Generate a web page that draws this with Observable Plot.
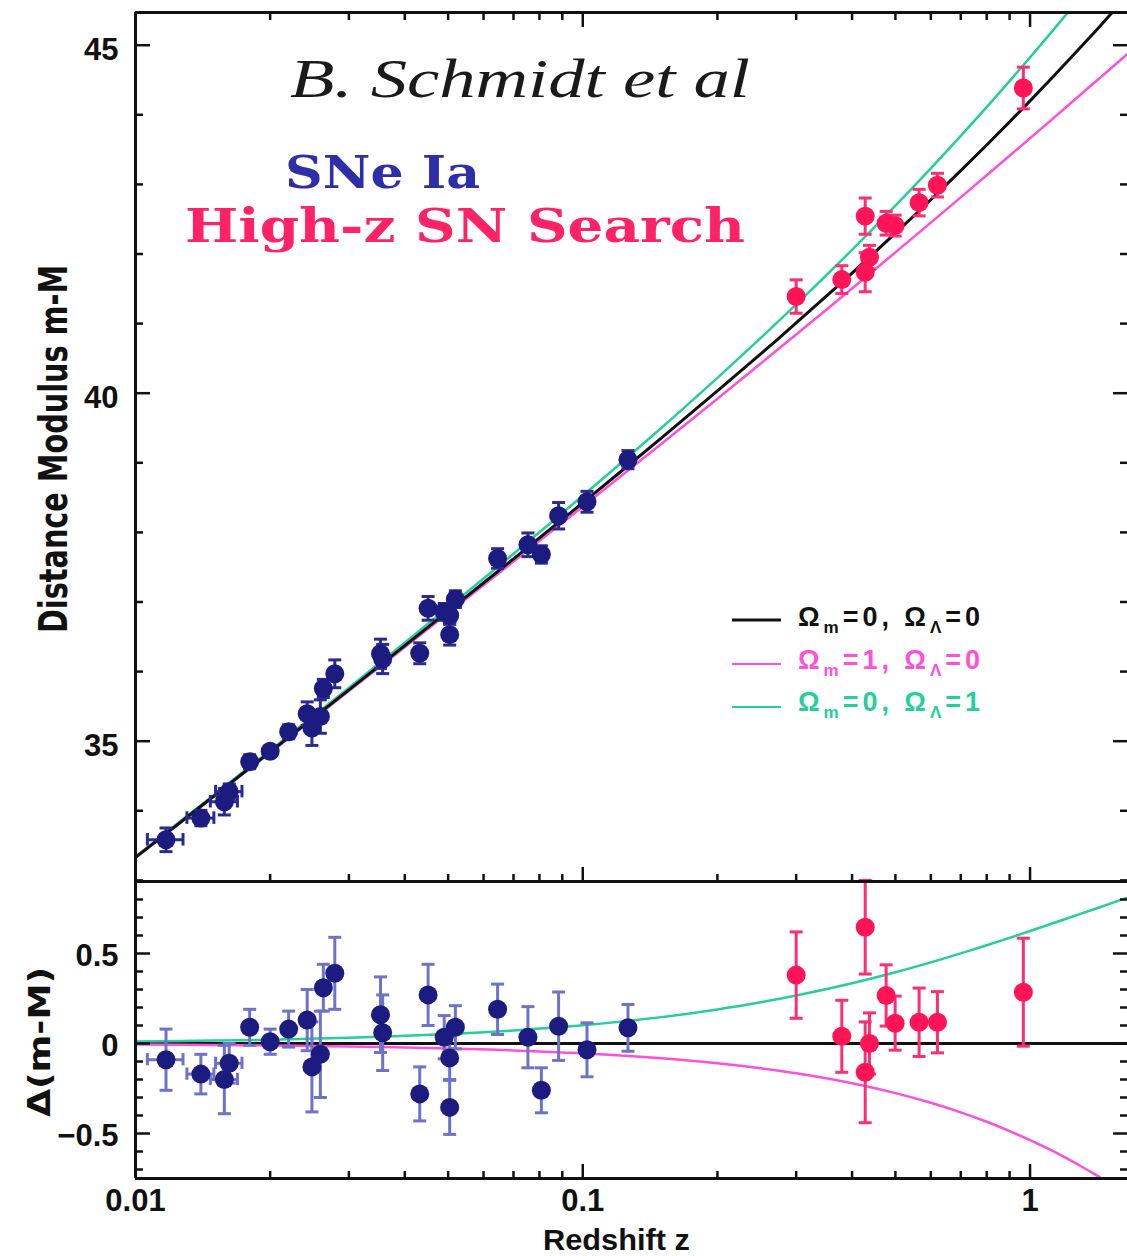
<!DOCTYPE html>
<html><head><meta charset="utf-8">
<script src="https://cdn.jsdelivr.net/npm/d3@7"></script>
<script src="https://cdn.jsdelivr.net/npm/@observablehq/plot@0.6"></script>
<style>
html,body{margin:0;padding:0;background:#fff;}
#wrap{position:relative;width:1127px;height:1256px;overflow:hidden;background:#fff;}
#top{position:absolute;left:0;top:0;}
#bot{position:absolute;left:0;top:881px;}
#ann{position:absolute;left:0;top:0;pointer-events:none;}
</style></head><body>
<div id="wrap"><div id="top"></div><div id="bot"></div><svg id="ann" width="1127" height="1256"></svg></div>
<script>
// ---- Calan/Tololo low-z SNe Ia ----
const lowZ   = [0.0117, 0.0140, 0.0162, 0.0158, 0.0180, 0.0200, 0.0220, 0.0242, 0.0248, 0.0259, 0.0263, 0.0279, 0.0353, 0.0357, 0.0432, 0.0451, 0.0490, 0.0504, 0.0504, 0.0519, 0.0645, 0.0754, 0.0808, 0.0883, 0.1022, 0.1262];
const lowMu  = [33.583, 33.895, 34.275, 34.130, 34.705, 34.856, 35.135, 35.395, 35.189, 35.354, 35.758, 35.968, 36.256, 36.181, 36.263, 36.909, 36.858, 36.806, 36.531, 37.041, 37.626, 37.822, 37.683, 38.239, 38.440, 39.045];
const lowRes = [-0.09, -0.17, -0.11, -0.20, 0.09, 0.01, 0.08, 0.13, -0.13, -0.06, 0.31, 0.39, 0.16, 0.06, -0.28, 0.27, 0.035, -0.08, -0.355, 0.09, 0.19, 0.035, -0.26, 0.096, -0.035, 0.087];
const lowErr = [0.17, 0.11, 0.11, 0.19, 0.10, 0.07, 0.10, 0.17, 0.25, 0.24, 0.13, 0.20, 0.21, 0.21, 0.15, 0.17, 0.12, 0.12, 0.15, 0.12, 0.14, 0.17, 0.125, 0.19, 0.15, 0.13];
const lowZErr = [0.00107, 0.00097, 0.0011, 0.0011, 0, 0, 0, 0, 0, 0, 0, 0, 0, 0, 0, 0, 0, 0, 0, 0, 0, 0, 0, 0, 0, 0];

// ---- High-z SN Search ----
const highZ   = [0.300, 0.3794, 0.428, 0.4375, 0.428, 0.4767, 0.4993, 0.5649, 0.6208, 0.966];
const highMu  = [41.389, 41.632, 42.544, 41.954, 41.738, 42.442, 42.408, 42.738, 42.989, 44.385];
const highRes = [0.38, 0.04, 0.646, 0.0, -0.16, 0.267, 0.113, 0.118, 0.118, 0.285];
const highErr = [0.24, 0.20, 0.26, 0.17, 0.28, 0.17, 0.15, 0.19, 0.17, 0.30];

// ---- model curves ----
const modelZ   = [0.01, 0.015, 0.02, 0.03, 0.05, 0.07, 0.1, 0.15, 0.2, 0.25, 0.3, 0.4, 0.5, 0.6, 0.7, 0.8, 0.9, 1.0, 1.1, 1.2, 1.3, 1.4, 1.5, 1.66];
const muEmpty  = [33.330, 34.216, 34.846, 35.737, 36.868, 37.620, 38.425, 39.357, 40.032, 40.565, 41.009, 41.726, 42.299, 42.780, 43.197, 43.566, 43.898, 44.200, 44.478, 44.736, 44.977, 45.202, 45.415, 45.732];
const muMatter = [33.325, 34.208, 34.835, 35.721, 36.841, 37.581, 38.371, 39.275, 39.921, 40.427, 40.843, 41.505, 42.023, 42.451, 42.814, 43.131, 43.411, 43.663, 43.892, 44.102, 44.295, 44.474, 44.641, 44.887];
const muLambda = [33.341, 34.232, 34.868, 35.769, 36.920, 37.692, 38.526, 39.504, 40.221, 40.794, 41.275, 42.060, 42.695, 43.231, 43.697, 44.111, 44.485, 44.825, 45.138, 45.428, 45.698, 45.951, 46.190, 46.545];
const dMatter  = [-0.0054, -0.0082, -0.0109, -0.0163, -0.0273, -0.0383, -0.0548, -0.0825, -0.1102, -0.1380, -0.1657, -0.2209, -0.2756, -0.3295, -0.3827, -0.4349, -0.4863, -0.5366, -0.5860, -0.6345, -0.6820, -0.7286, -0.7743, -0.8455];
const dLambda  = [0.0108, 0.0161, 0.0214, 0.0319, 0.0523, 0.0722, 0.1010, 0.1465, 0.1889, 0.2288, 0.2662, 0.3347, 0.3959, 0.4509, 0.5006, 0.5457, 0.5869, 0.6247, 0.6594, 0.6915, 0.7212, 0.7488, 0.7745, 0.8122];

// ---- ticks ----
const xMajor = [0.01, 0.1, 1];
const xMinor = [0.02, 0.03, 0.04, 0.05, 0.06, 0.07, 0.08, 0.09, 0.2, 0.3, 0.4, 0.5, 0.6, 0.7, 0.8, 0.9];
const yTopMajor = [35, 40, 45];
const yTopMinor = [33, 34, 36, 37, 38, 39, 41, 42, 43, 44];
const yBotMajor = [-0.5, 0, 0.5];
const yBotMinor = [-0.7, -0.6, -0.4, -0.3, -0.2, -0.1, 0.1, 0.2, 0.3, 0.4, 0.6, 0.7, 0.8];

// ---- styling ----
const BLUE = "#1c1c80", BLUE_ERR_TOP = "#2a2a92", BLUE_ERR_BOT = "#6e72c8";
const RED = "#ff1458", RED_ERR = "#ff2d74";
const MAG = "#ff4fdc", GRN = "#24cf9c", BLK = "#111111";
const FONT = "'Liberation Sans', Arial, Helvetica, sans-serif";
const CAP = 1.034;

const lowData = lowZ.map((z, i) => ({z, mu: lowMu[i], res: lowRes[i], err: lowErr[i], zErr: lowZErr[i]}));
const highData = highZ.map((z, i) => ({z, mu: highMu[i], res: highRes[i], err: highErr[i], zErr: 0}));
const models = modelZ.map((z, i) => ({z, empty: muEmpty[i], matter: muMatter[i], lambda: muLambda[i], dMatter: dMatter[i], dLambda: dLambda[i]}));

function errorBars(data, key, color, hCap) {
  const lo = d => d[key] - d.err, hi = d => d[key] + d.err;
  const hz = data.filter(d => d.zErr > 0);
  const sw = 3;
  return [
    Plot.ruleX(data, {x: "z", y1: lo, y2: hi, stroke: color, strokeWidth: sw}),
    Plot.link(data, {x1: d => d.z / CAP, x2: d => d.z * CAP, y1: lo, y2: lo, stroke: color, strokeWidth: sw}),
    Plot.link(data, {x1: d => d.z / CAP, x2: d => d.z * CAP, y1: hi, y2: hi, stroke: color, strokeWidth: sw}),
    Plot.link(hz, {x1: d => d.z - d.zErr, x2: d => d.z + d.zErr, y1: key, y2: key, stroke: color, strokeWidth: sw}),
    Plot.ruleX(hz, {x: d => d.z - d.zErr, y1: d => d[key] - hCap, y2: d => d[key] + hCap, stroke: color, strokeWidth: sw}),
    Plot.ruleX(hz, {x: d => d.z + d.zErr, y1: d => d[key] - hCap, y2: d => d[key] + hCap, stroke: color, strokeWidth: sw})
  ];
}

function tickAxes(yMajor, yMinor, topTicks) {
  const o = {fill: "none", label: null, stroke: BLK, strokeWidth: 2.5};
  const m = [
    Plot.axisY(yMajor, {...o, anchor: "left", tickSize: -15}),
    Plot.axisY(yMinor, {...o, anchor: "left", tickSize: -8}),
    Plot.axisY(yMajor, {...o, anchor: "right", tickSize: -15}),
    Plot.axisY(yMinor, {...o, anchor: "right", tickSize: -8}),
    Plot.axisX(xMajor, {...o, anchor: "bottom", tickSize: -14}),
    Plot.axisX(xMinor, {...o, anchor: "bottom", tickSize: -7})
  ];
  if (topTicks) {
    m.push(Plot.axisX(xMajor, {...o, anchor: "top", tickSize: -14}));
    m.push(Plot.axisX(xMinor, {...o, anchor: "top", tickSize: -7}));
  }
  return m;
}

const xScale = {type: "log", domain: [0.01, 1.66], range: [135, 1128]};
const yTopDomain = [32.984, 45.47];
const yBotDomain = [-0.75, 0.9];
const style = {fontFamily: FONT, fontSize: "31px", fontWeight: "bold", background: "transparent", overflow: "visible", color: BLK};

const topPlot = Plot.plot({
  width: 1127, height: 881, marginTop: 12, marginBottom: 0, marginLeft: 135, marginRight: 0,
  x: xScale,
  y: {domain: yTopDomain, range: [881, 12]},
  style,
  marks: [
    Plot.line(models, {x: "z", y: "matter", stroke: MAG, strokeWidth: 2.5, curve: "catmull-rom", clip: true}),
    Plot.line(models, {x: "z", y: "lambda", stroke: GRN, strokeWidth: 2.5, curve: "catmull-rom", clip: true}),
    Plot.line(models, {x: "z", y: "empty", stroke: BLK, strokeWidth: 3, curve: "catmull-rom", clip: true}),
    ...errorBars(lowData, "mu", BLUE_ERR_TOP, 0.09),
    ...errorBars(highData, "mu", RED_ERR, 0.09),
    Plot.dot(lowData, {x: "z", y: "mu", r: 9.5, fill: BLUE}),
    Plot.dot(highData, {x: "z", y: "mu", r: 9.5, fill: RED}),
    Plot.ruleX([xScale.domain[0]], {stroke: BLK, strokeWidth: 3}),
    Plot.ruleY([yTopDomain[1]], {stroke: BLK, strokeWidth: 3}),
    Plot.ruleY([yTopDomain[0]], {stroke: BLK, strokeWidth: 3}),
    ...tickAxes(yTopMajor, yTopMinor, true),
    Plot.axisY(yTopMajor, {anchor: "left", tickSize: 0, tickPadding: 17, label: null, fontSize: 31, fontWeight: "bold", fontFamily: FONT, dy: 5, tickFormat: d => String(d)})
  ]
});
document.getElementById("top").appendChild(topPlot);

const botPlot = Plot.plot({
  width: 1127, height: 375, marginTop: 0, marginBottom: 78, marginLeft: 135, marginRight: 0,
  x: xScale,
  y: {domain: yBotDomain, range: [297, 0]},
  style,
  marks: [
    Plot.ruleY([0], {stroke: BLK, strokeWidth: 3}),
    Plot.line(models, {x: "z", y: "dLambda", stroke: GRN, strokeWidth: 2.5, curve: "catmull-rom", clip: true}),
    Plot.line(models, {x: "z", y: "dMatter", stroke: MAG, strokeWidth: 2.5, curve: "catmull-rom", clip: true}),
    ...errorBars(lowData, "res", BLUE_ERR_BOT, 0.034),
    ...errorBars(highData, "res", RED_ERR, 0.034),
    Plot.dot(lowData, {x: "z", y: "res", r: 9.5, fill: BLUE}),
    Plot.dot(highData, {x: "z", y: "res", r: 9.5, fill: RED}),
    Plot.ruleX([xScale.domain[0]], {stroke: BLK, strokeWidth: 3}),
    Plot.ruleY([yBotDomain[1]], {stroke: BLK, strokeWidth: 3}),
    Plot.ruleY([yBotDomain[0]], {stroke: BLK, strokeWidth: 3}),
    ...tickAxes(yBotMajor, yBotMinor, false),
    Plot.axisY(yBotMajor, {anchor: "left", tickSize: 0, tickPadding: 17, label: null, fontSize: 31, fontWeight: "bold", fontFamily: FONT, dy: 3,
      tickFormat: d => d === 0 ? "0" : (d < 0 ? "\u2212" + Math.abs(d) : String(d))}),
    Plot.axisX(xMajor, {anchor: "bottom", tickSize: 0, tickPadding: 10, label: null, fontSize: 31, fontWeight: "bold", fontFamily: FONT, tickFormat: d => String(d)})
  ]
});
document.getElementById("bot").appendChild(botPlot);

// ---- annotations ----
const ann = document.getElementById("ann");
ann.innerHTML = `
<text x="290" y="97" font-family="'Liberation Serif','DejaVu Serif',serif" font-style="italic" font-size="54" textLength="460" lengthAdjust="spacingAndGlyphs" fill="#1a1a1a">B. Schmidt et al</text>
<text x="285" y="188" font-family="'DejaVu Serif',serif" font-weight="bold" font-size="45" textLength="195" lengthAdjust="spacingAndGlyphs" fill="#2e2ea8">SNe Ia</text>
<text x="185" y="242" font-family="'DejaVu Serif',serif" font-weight="bold" font-size="46" textLength="560" lengthAdjust="spacingAndGlyphs" fill="#ff2266">High-z SN Search</text>
<text transform="translate(67,449) rotate(-90)" text-anchor="middle" font-family="'Liberation Sans Narrow','DejaVu Sans Condensed','Liberation Sans',sans-serif" font-weight="bold" font-size="39" textLength="368" lengthAdjust="spacingAndGlyphs" fill="#111">Distance Modulus m-M</text>
<text transform="translate(50,1042) rotate(-90)" text-anchor="middle" font-family="'Liberation Sans Narrow','DejaVu Sans Condensed','Liberation Sans',sans-serif" font-weight="bold" font-size="31" textLength="150" lengthAdjust="spacingAndGlyphs" fill="#111">\u0394(m-M)</text>
<text x="543" y="1250" font-family="${FONT}" font-weight="bold" font-size="30" textLength="147" lengthAdjust="spacingAndGlyphs" fill="#111">Redshift z</text>
<line x1="732" x2="781" y1="620" y2="620" stroke="${BLK}" stroke-width="3"/>
<line x1="732" x2="781" y1="664" y2="664" stroke="${MAG}" stroke-width="2"/>
<line x1="732" x2="781" y1="707" y2="707" stroke="${GRN}" stroke-width="2"/>
<text x="798" y="626" font-family="${FONT}" font-weight="bold" font-size="27" textLength="182" lengthAdjust="spacing" fill="${BLK}">\u03A9<tspan dy="7" font-size="17">m</tspan><tspan dy="-7">=0,  \u03A9</tspan><tspan dy="7" font-size="17">\u039B</tspan><tspan dy="-7">=0</tspan></text>
<text x="798" y="669" font-family="${FONT}" font-weight="bold" font-size="27" textLength="182" lengthAdjust="spacing" fill="${MAG}">\u03A9<tspan dy="7" font-size="17">m</tspan><tspan dy="-7">=1,  \u03A9</tspan><tspan dy="7" font-size="17">\u039B</tspan><tspan dy="-7">=0</tspan></text>
<text x="798" y="711" font-family="${FONT}" font-weight="bold" font-size="27" textLength="182" lengthAdjust="spacing" fill="${GRN}">\u03A9<tspan dy="7" font-size="17">m</tspan><tspan dy="-7">=0,  \u03A9</tspan><tspan dy="7" font-size="17">\u039B</tspan><tspan dy="-7">=1</tspan></text>
`;
</script>
</body></html>
